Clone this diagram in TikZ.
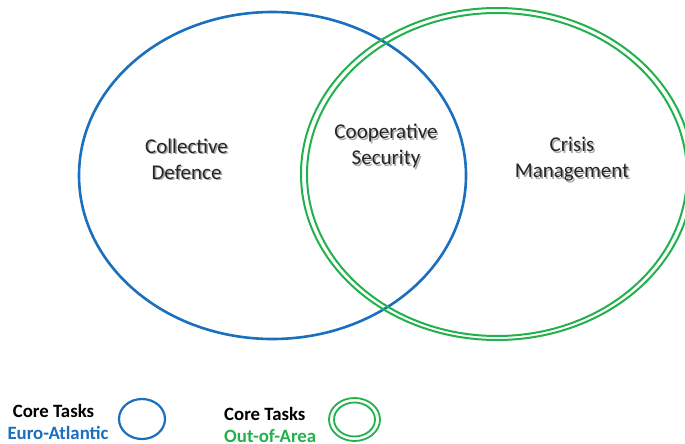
\documentclass[tikz,border=0pt]{standalone}
\usepackage{fontspec}
\setmainfont{Carlito}
\usetikzlibrary{shapes.geometric}
\definecolor{natoblue}{HTML}{1B6FBF}
\definecolor{natogreen}{HTML}{22B14C}
\definecolor{txtdark}{HTML}{262626}
\definecolor{txtshadow}{HTML}{A8A8A8}
\begin{document}
\begin{tikzpicture}[x=1pt,y=-1pt,
  ring/.style={ellipse, inner sep=0pt, outer sep=0pt},
  bluering/.style={ring, draw=natoblue, line width=2.6pt},
  greenring/.style={ring, draw=natogreen, line width=2pt},
  lbl/.style={font=\fontsize{21}{26}\selectfont, align=center, text=txtdark, inner sep=0pt},
  lblshadow/.style={lbl, text=txtshadow},
  legtxt/.style={font=\bfseries\fontsize{18.8}{22}\selectfont, inner sep=0pt}
]
\useasboundingbox (0,0) rectangle (685,444);
\clip (0,0) rectangle (685,444);
\fill[white] (0,0) rectangle (685,444);
% main rings
\node[bluering, minimum width=387pt, minimum height=327pt] (blue) at (272.5,175.5) {};
\node[greenring, minimum width=392pt, minimum height=332pt] (greenout) at (497,174) {};
\node[greenring, minimum width=380pt, minimum height=323pt] (greenin) at (497,174.5) {};
% labels with soft shadow
\node[lblshadow] (cdS) at (188,160.5) {Collective\\Defence};
\node[lbl] (cd) at (186.5,159) {Collective\\Defence};
\node[lblshadow] (csS) at (387.5,147.5) {Cooperative\\Security};
\node[lbl] (cs) at (386,146) {Cooperative\\Security};
\node[lblshadow] (cmS) at (573.5,161) {Crisis\\Management};
\node[lbl] (cm) at (572,159.5) {Crisis\\Management};
% legend
\node[legtxt, text=black] (lt1) at (53.5,411) {Core Tasks};
\node[legtxt, text=natoblue] (lt2) at (58,432.5) {Euro-Atlantic};
\node[ring, draw=natoblue, line width=2.2pt, minimum width=46pt, minimum height=40pt] (legblue) at (142,419) {};
\node[legtxt, text=black, anchor=west] (lt3) at (224,414) {Core Tasks};
\node[legtxt, text=natogreen, anchor=west] (lt4) at (224,436) {Out-of-Area};
\node[ring, draw=natogreen, line width=1.8pt, minimum width=51pt, minimum height=43pt] (leggreenout) at (354.5,419.5) {};
\node[ring, draw=natogreen, line width=1.8pt, minimum width=41pt, minimum height=34pt] (leggreenin) at (354.5,419.5) {};
\end{tikzpicture}
\end{document}
